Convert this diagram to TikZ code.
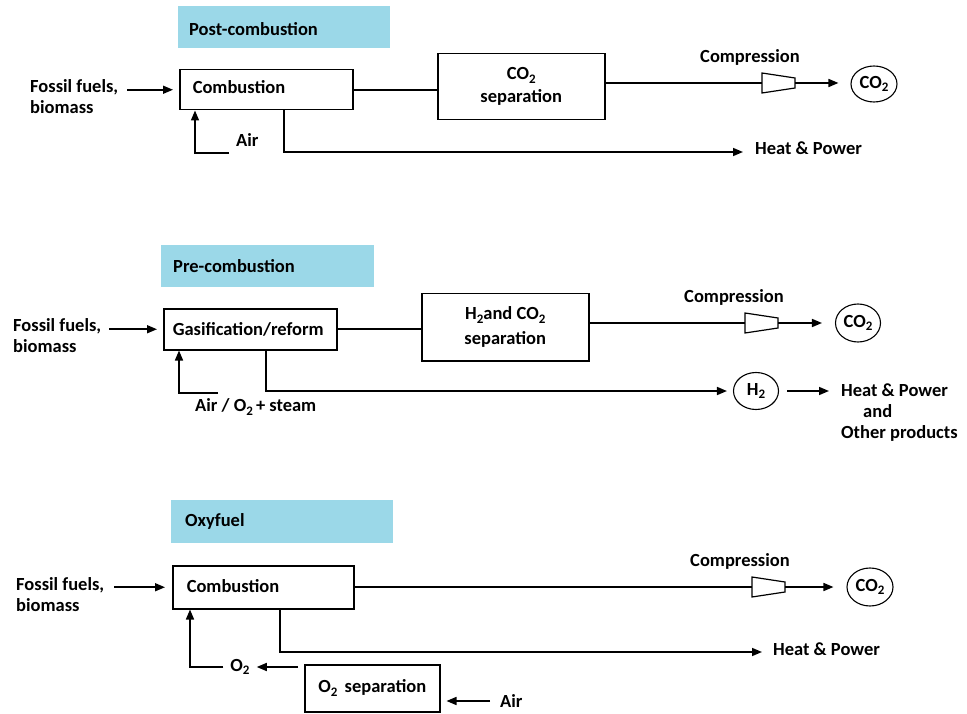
\documentclass[tikz,border=0pt]{standalone}
\usepackage{fontspec}
\setmainfont{Carlito}
\usetikzlibrary{arrows.meta,shapes.geometric}
\definecolor{hdrblue}{RGB}{155,216,232}
\newcommand{\ssub}[1]{\raisebox{-0.2em}{\fontsize{13}{13}\selectfont #1}}
\tikzset{
  line/.style={line width=1.6pt},
  arr/.style={line width=1.6pt, -{Triangle[length=10pt,width=8pt]}},
  box/.style={draw, line width=1.5pt, anchor=north west, inner ysep=0pt},
  hdr/.style={fill=hdrblue, anchor=north west, inner ysep=0pt, align=left},
  lbl/.style={inner sep=0pt, align=left},
  gas/.style={draw, ellipse, line width=1.1pt, inner sep=0pt},
  compressor/.pic={
    \draw[line width=1.2pt] (0,-10) -- (33,-5) -- (33,5) -- (0,10) -- cycle;
    \coordinate (-in) at (0,0);
    \coordinate (-out) at (33,0);
  }
}
\begin{document}
\begin{tikzpicture}[x=1pt,y=-1pt,font=\fontsize{18.5}{21}\selectfont\bfseries]
\useasboundingbox (0,0) rectangle (967,714);

% ---------- Post-combustion ----------
\node[hdr, minimum width=212pt, minimum height=42pt, inner xsep=11pt, text width=190pt, text height=17pt, text depth=0pt] (h1) at (178,6) {Post-combustion};
\node[box, minimum width=173pt, minimum height=40pt, inner xsep=13pt, text width=147pt, text depth=6pt, align=left] (b1) at (179,69) {Combustion};
\node[lbl, anchor=west] (f1) at (30,97) {Fossil fuels,\\biomass};
\node[box, minimum width=167pt, minimum height=66pt, align=center] (b2) at (437,53) {CO\ssub{2}\\[2pt]separation};
\pic (cp1) at (762,83) {compressor};
\node[gas, minimum width=46pt, minimum height=36pt] (g1) at (874,84) {CO\ssub{2}};
\node (cl1) at (750,57) {Compression};
\node[lbl, anchor=west] (air1) at (236,140) {Air};
\node[lbl, anchor=west] (hp1) at (755,148) {Heat \& Power};
\coordinate (a1) at (229,153);
\coordinate (hp1in) at (743,152);

\draw[arr, shorten <=9pt, shorten >=6pt] (f1.east |- b1.west) -- (b1.west);
\draw[arr] (a1) -| ([xshift=16pt]b1.south west);
\draw[line] (b1.east) -- (b1.east -| b2.west);
\draw[line] (b2.east |- cp1-in) -- (cp1-in);
\draw[arr, shorten >=12pt] (cp1-out) -- (cp1-out -| g1.west);
\draw[arr] ([xshift=105pt]b1.south west) |- (hp1in);

% ---------- Pre-combustion ----------
\node[hdr, minimum width=213pt, minimum height=42pt, inner xsep=12pt, text width=189pt] (h2) at (161,245) {Pre-combustion};
\node[box, minimum width=173pt, minimum height=41pt, inner xsep=9pt, text width=155pt, align=left] (b3) at (163,308) {Gasification/reform};
\node[lbl, anchor=west] (f2) at (13,336) {Fossil fuels,\\biomass};
\node[box, minimum width=167pt, minimum height=67pt, align=center] (b4) at (421,293) {H\ssub{2}and CO\ssub{2}\\[4pt]separation};
\pic (cp2) at (745,323) {compressor};
\node[gas, minimum width=45pt, minimum height=38pt] (g2) at (858,323) {CO\ssub{2}};
\node (cl2) at (734,297) {Compression};
\node[gas, minimum width=45pt, minimum height=37pt] (g3) at (756,391) {H\ssub{2}};
\node[lbl, anchor=north west] (hp2) at (841,384) {Heat \& Power\\\hspace*{22pt}and\\Other products};
\node[lbl, anchor=west] (air2) at (195,407) {Air / O\ssub{2}\,+ steam};
\coordinate (a2) at (218,393);

\draw[arr, shorten <=8pt, shorten >=6pt] (f2.east |- b3.west) -- (b3.west);
\draw[arr] (a2) -| ([xshift=16pt]b3.south west);
\draw[line] (b3.east) -- (b3.east -| b4.west);
\draw[line] (b4.east |- cp2-in) -- (cp2-in);
\draw[arr, shorten >=13pt] (cp2-out) -- (cp2-out -| g2.west);
\draw[arr, shorten >=6pt] ([xshift=103pt]b3.south west) |- (g3.west);
\draw[arr, shorten <=8pt, shorten >=12pt] (g3.east) -- (g3.east -| hp2.west);

% ---------- Oxyfuel ----------
\node[hdr, minimum width=222pt, minimum height=43pt, inner xsep=14pt, text width=194pt] (h3) at (171,500) {Oxyfuel};
\node[box, minimum width=181pt, minimum height=43pt, inner xsep=14pt, text width=153pt, text depth=3pt, align=left] (b5) at (172,565) {Combustion};
\node[lbl, anchor=west] (f3) at (16,595) {Fossil fuels,\\biomass};
\pic (cp3) at (752,587) {compressor};
\node[gas, minimum width=46pt, minimum height=38pt] (g4) at (870,587) {CO\ssub{2}};
\node (cl3) at (740,561) {Compression};
\node[lbl, anchor=west] (hp3) at (773,649) {Heat \& Power};
\coordinate (hp3in) at (762,652);
\node[box, minimum width=135pt, minimum height=47pt] (b6) at (304,664) {O\ssub{2}\, separation};
\node[lbl] (o2) at (240,667) {O\ssub{2}};
\node[lbl, anchor=west] (air3) at (500,701) {Air};

\draw[arr, shorten <=10pt, shorten >=7pt] (f3.east |- b5.west) -- (b5.west);
\draw[line] (b5.east |- cp3-in) -- (cp3-in);
\draw[arr, shorten >=13pt] (cp3-out) -- (cp3-out -| g4.west);
\draw[arr] ([xshift=108pt]b5.south west) |- (hp3in);
\draw[arr, shorten <=6pt, shorten >=7pt] (b6.west |- o2.east) -- (o2.east);
\draw[arr, shorten <=7pt] (o2.west) -| ([xshift=18pt]b5.south west);
\draw[arr, shorten <=10pt, shorten >=6pt] (air3.west) -- (air3.west -| b6.east);
\end{tikzpicture}
\end{document}
